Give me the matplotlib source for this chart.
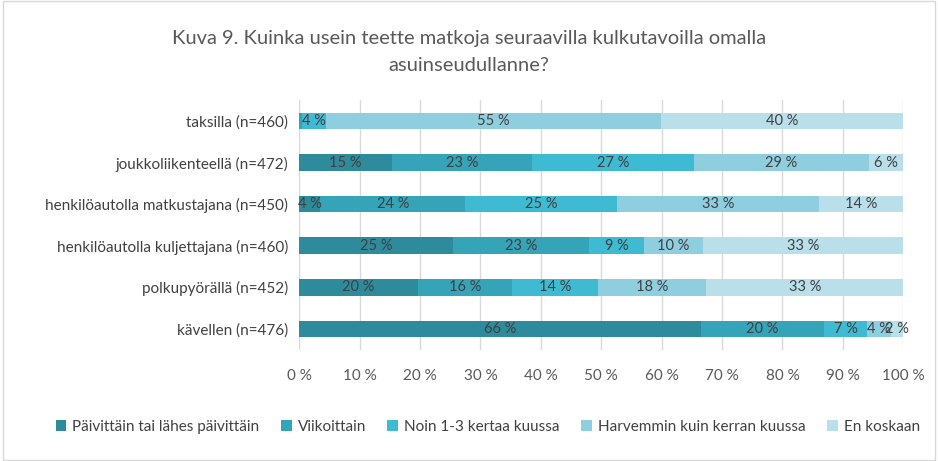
import matplotlib
matplotlib.use('Agg')
import matplotlib.pyplot as plt
import numpy as np

plt.rcParams['font.family'] = ['Lato', 'DejaVu Sans']

# categories, bottom to top
categories = ['kävellen (n=476)', 'polkupyörällä (n=452)', 'henkilöautolla kuljettajana (n=460)',
              'henkilöautolla matkustajana (n=450)', 'joukkoliikenteellä (n=472)', 'taksilla (n=460)']
series = ['Päivittäin tai lähes päivittäin', 'Viikoittain', 'Noin 1-3 kertaa kuussa',
          'Harvemmin kuin kerran kuussa', 'En koskaan']

paivittain = [66.5, 19.6, 25.4, 3.5, 15.4, 0.0]
viikoittain = [20.4, 15.7, 22.6, 24.0, 23.1, 0.5]
kuukausittain = [7.1, 14.1, 9.1, 25.1, 26.8, 4.0]
harvemmin = [4.0, 18.0, 9.7, 33.4, 29.1, 55.4]
ei_koskaan = [2.0, 32.6, 33.2, 14.0, 5.6, 40.1]

colors = ['#2E8B9B', '#35A3B8', '#3FBAD3', '#8ECEDF', '#B8DFEA']

fig = plt.figure(figsize=(9.38, 4.61), dpi=100)
ax = fig.add_axes([0.319, 0.241, 0.644, 0.542])

y = np.arange(len(categories))
left = np.zeros(len(categories))
for name, vals, col in zip(series, [paivittain, viikoittain, kuukausittain, harvemmin, ei_koskaan], colors):
    vals = np.array(vals)
    ax.barh(y, vals, left=left, height=0.4, color=col, label=name, zorder=3)
    for yi, l, v in zip(y, left, vals):
        if v >= 1:
            ax.text(l + v / 2, yi, f'{round(v):.0f} %', ha='center', va='center',
                    fontsize=10.5, color='#404040', zorder=4)
    left += vals

ax.set_xlim(0, 100)
ax.set_ylim(-0.5, len(categories) - 0.5)
ax.set_xticks(np.arange(0, 101, 10))
ax.set_xticklabels([f'{t} %' for t in range(0, 101, 10)], fontsize=11, color='#595959')
ax.set_yticks(y)
ax.set_yticklabels(categories, fontsize=11, color='#404040')
ax.tick_params(length=0, pad=8)
ax.tick_params(axis='x', pad=14)
ax.grid(axis='x', color='#D9D9D9', linewidth=1, zorder=0)
for s in ax.spines.values():
    s.set_visible(False)

fig.suptitle('Kuva 9. Kuinka usein teette matkoja seuraavilla kulkutavoilla omalla\nasuinseudullanne?',
             y=0.935, fontsize=14.5, color='#595959', linespacing=1.75)

fig.legend(loc='center', bbox_to_anchor=(0.52, 0.074), ncol=5, frameon=False,
           fontsize=11, handlelength=0.7, handleheight=0.7, handletextpad=0.4,
           columnspacing=1.4, labelcolor='#404040')

fig.patches.append(plt.Rectangle((0.003, 0.003), 0.994, 0.994, transform=fig.transFigure,
                                 fill=False, edgecolor='#D9D9D9', linewidth=1))

fig.savefig('out.png', dpi=100)
